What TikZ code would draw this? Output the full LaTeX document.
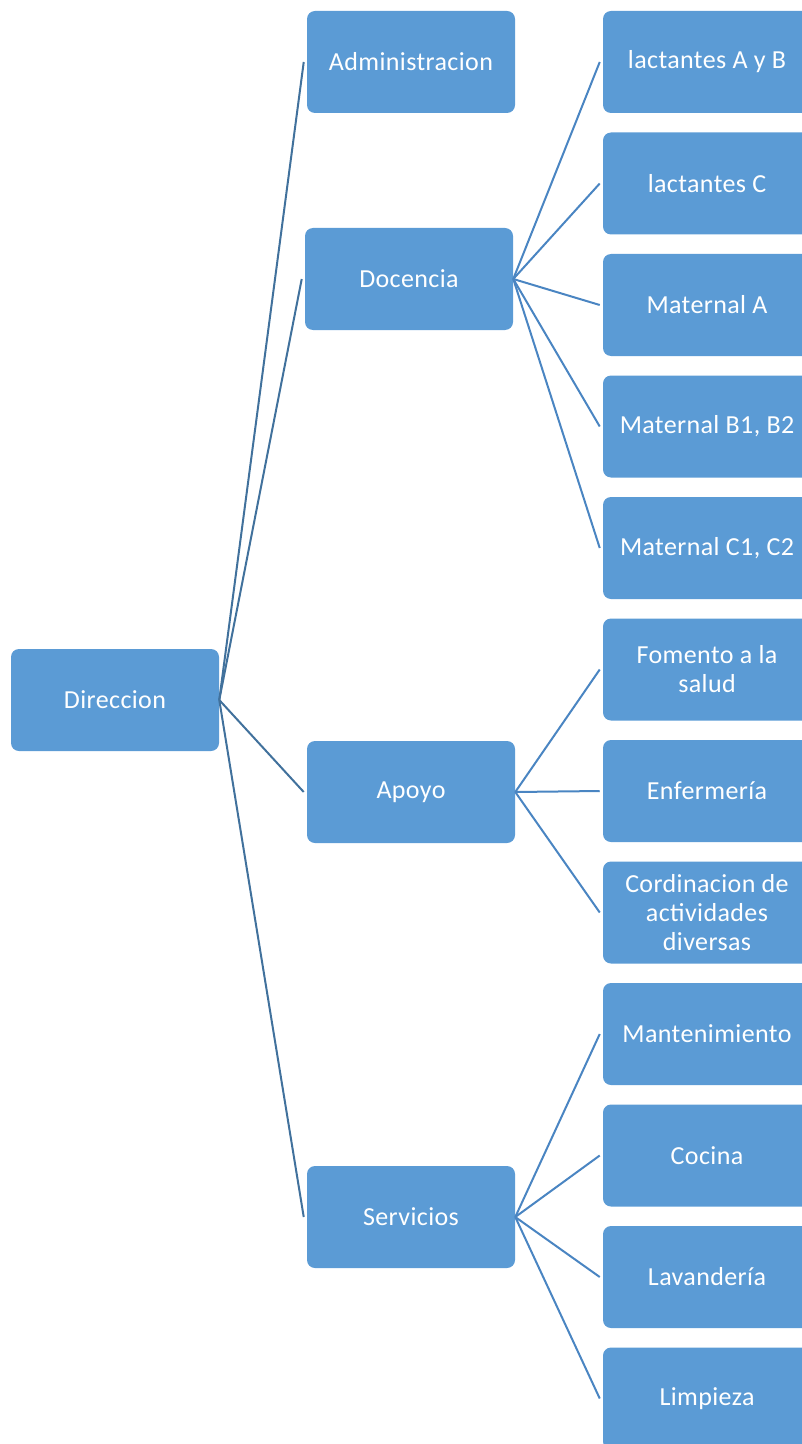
\documentclass[tikz,border=0pt]{standalone}
\usepackage{fontspec}
\setmainfont[LetterSpace=1.5]{Carlito}
\definecolor{boxblue}{HTML}{5B9BD5}
\definecolor{linedark}{HTML}{41719C}
\definecolor{linemid}{HTML}{4A85C2}
\begin{document}
\begin{tikzpicture}[x=0.75pt,y=-0.75pt,
  orgbox/.style={fill=boxblue, draw=none, rounded corners=6pt, minimum width=156pt, minimum height=76.5pt, inner sep=0pt, text=white, align=center, font=\fontsize{19.5}{21.75}\selectfont},
  toplink/.style={draw=linedark, line width=1.5pt},
  sublink/.style={draw=linemid, line width=1.5pt}]
\useasboundingbox (0,0) rectangle (802,1444);
\clip (0,0) rectangle (802,1444);
% level 1
\node[orgbox] (dir) at (115,700) {Direccion};
% level 2
\node[orgbox] (adm) at (411,62) {Administracion};
\node[orgbox] (doc) at (409,279) {Docencia};
\node[orgbox] (apo) at (411,792) {Apoyo};
\node[orgbox] (ser) at (411,1217) {Servicios};
% level 3
\node[orgbox] (la) at (707,62) {lactantes A y B};
\node[orgbox] (lc) at (707,183.5) {lactantes C};
\node[orgbox] (ma) at (707,305) {Maternal A};
\node[orgbox] (mb) at (707,426.5) {Maternal B1, B2};
\node[orgbox] (mc) at (707,548) {Maternal C1, C2};
\node[orgbox] (fo) at (707,669.5) {Fomento a la\\salud};
\node[orgbox] (en) at (707,791) {Enfermería};
\node[orgbox] (co) at (707,912.5) {Cordinacion de\\actividades\\diversas};
\node[orgbox] (mt) at (707,1034) {Mantenimiento};
\node[orgbox] (ci) at (707,1155.5) {Cocina};
\node[orgbox] (lv) at (707,1277) {Lavandería};
\node[orgbox] (lp) at (707,1398.5) {Limpieza};
% connectors
\foreach \c in {adm,doc,apo,ser}
  \draw[toplink] (dir.east) -- ([xshift=-2.25pt]\c.west);
\foreach \c in {la,lc,ma,mb,mc}
  \draw[sublink] (doc.east) -- ([xshift=-2.25pt]\c.west);
\foreach \c in {fo,en,co}
  \draw[sublink] (apo.east) -- ([xshift=-2.25pt]\c.west);
\foreach \c in {mt,ci,lv,lp}
  \draw[sublink] (ser.east) -- ([xshift=-2.25pt]\c.west);
\end{tikzpicture}
\end{document}
